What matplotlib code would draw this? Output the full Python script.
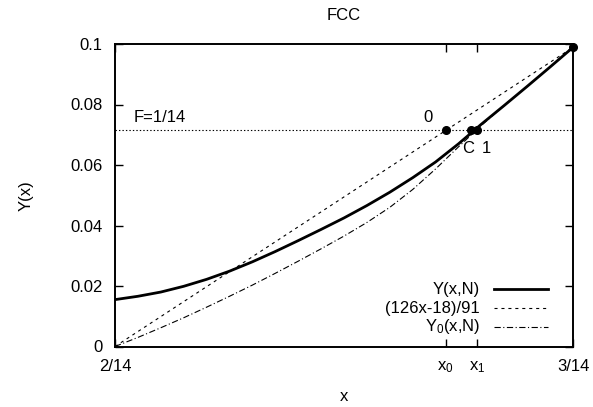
import matplotlib
matplotlib.use('Agg')
import matplotlib.pyplot as plt
import numpy as np

plt.rcParams['font.family'] = ['Liberation Sans', 'DejaVu Sans']
plt.rcParams['mathtext.default'] = 'regular'
plt.rcParams['font.size'] = 12
plt.rcParams['lines.scale_dashes'] = False

# ---- data ----
x_lo, x_hi = 2/14, 3/14
x0_val = 0.19444
x1_val = 0.19927
xC_val = 0.19833
F_val = 1/14

# curve sample positions (every 1/280 from 2/14 to 3/14)
x_curve = np.linspace(x_lo, x_hi, 21)
Y_vals = [0.0155, 0.0166, 0.0180, 0.0199, 0.0222, 0.0249, 0.0280, 0.0314,
          0.0350, 0.0387, 0.0425, 0.0466, 0.0510, 0.0558, 0.0610, 0.0670,
          0.0735, 0.0797, 0.0860, 0.0924, 0.0989]
Y0_vals = [0.0, 0.0030, 0.0062, 0.0095, 0.0130, 0.0166, 0.0203, 0.0242,
           0.0282, 0.0323, 0.0365, 0.0410, 0.0460, 0.0519, 0.0587, 0.0660,
           0.0731, 0.0797, 0.0860, 0.0924, 0.0989]
line_x = [x_lo, x_hi]
line_y = [0.0, 0.0989]

pts_x = [x0_val, xC_val, x1_val, x_hi]
pts_y = [F_val, F_val, F_val, 0.0989]

xtick_pos = [x_lo, x0_val, x1_val, x_hi]
xtick_lab = ['2/14', 'x$_0$', 'x$_1$', '3/14']
ytick_pos = [0, 0.02, 0.04, 0.06, 0.08, 0.1]
ytick_lab = ['0', '0.02', '0.04', '0.06', '0.08', '0.1']

legend_labels = ['Y(x,N)', '(126x-18)/91', 'Y$_0$(x,N)']

# ---- figure ----
fig = plt.figure(figsize=(5.93, 4.07), dpi=100)
ax = fig.add_axes([115/593, 1-346.5/407, 458/593, (346.5-44)/407])

styles = [dict(color='black', lw=2.0, ls='-'),
          dict(color='black', lw=0.8, ls=(0, (2.2, 2.8))),
          dict(color='black', lw=0.8, ls=(0, (4.5, 1.8, 0.8, 1.8)))]

ax.plot(x_curve, Y_vals, **styles[0])
ax.plot(line_x, line_y, **styles[1])
ax.plot(x_curve, Y0_vals, **styles[2])

ax.plot([x_lo, x_hi], [F_val, F_val], color='black', lw=0.8, ls=(0, (1, 1.5)))
ax.plot(pts_x, pts_y, 'o', color='black', ms=5.5, clip_on=False, zorder=5)

ax.text(0.1458, 0.0757, 'F=1/14', ha='left', va='center')
ax.text(0.1917, 0.0757, '0', ha='center', va='center')
ax.text(0.1980, 0.0655, 'C', ha='center', va='center')
ax.text(0.2007, 0.0655, '1', ha='center', va='center')

# manual gnuplot-like legend (right-aligned text, sample to the right)
rows = [0.190, 0.127, 0.0645]
for lab, st, ry in zip(legend_labels, styles, rows):
    ax.text(0.797, ry, lab, transform=ax.transAxes, ha='right', va='center')
    ax.plot([0.8275, 0.9454], [ry, ry], transform=ax.transAxes, **st)

ax.set_xlim(x_lo, x_hi)
ax.set_ylim(0, 0.1)
ax.set_xticks(xtick_pos)
ax.set_xticklabels(xtick_lab)
ax.set_yticks(ytick_pos)
ax.set_yticklabels(ytick_lab)
ax.tick_params(direction='in', length=5.5, width=1.0, top=True, right=True)
ax.tick_params(axis='x', pad=9)
ax.tick_params(axis='y', pad=9)
for s in ax.spines.values():
    s.set_linewidth(1.4)

ax.set_title('FCC', pad=17, fontsize=12)
ax.set_xlabel('x')
ax.set_ylabel('Y(x)')
ax.xaxis.set_label_coords(0.5, (346.5-389)/302.5)
ax.yaxis.set_label_coords((34-115)/458, 0.5)

fig.savefig('out.png', dpi=100)
